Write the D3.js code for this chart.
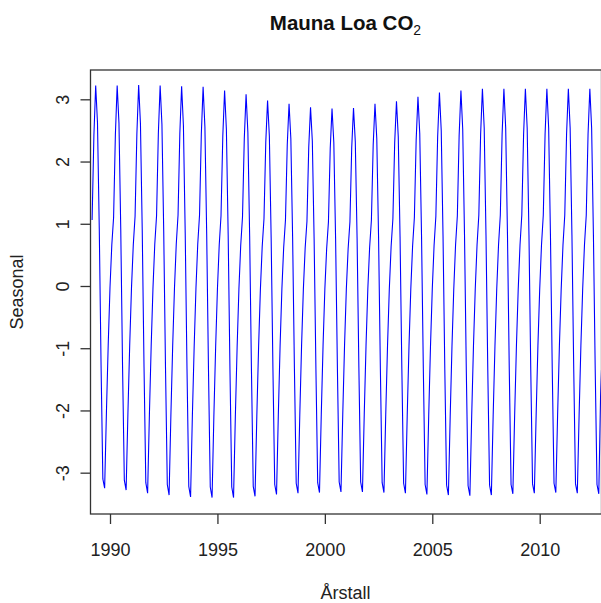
<!DOCTYPE html>
<html>
<head>
<meta charset="utf-8">
<script src="https://cdn.jsdelivr.net/npm/d3@7"></script>
<style>
  body { margin: 0; background: #fff; }
  svg { display: block; font-family: "Liberation Sans", Arial, sans-serif; }
</style>
</head>
<body>
<svg id="chart" width="601" height="603"></svg>
<script>
// Seasonal component, one row per year, Jan..Dec (null = no observation)
const years = [1989, 1990, 1991, 1992, 1993, 1994, 1995, 1996, 1997, 1998, 1999, 2000,
               2001, 2002, 2003, 2004, 2005, 2006, 2007, 2008, 2009, 2010, 2011, 2012];
const seasonal = [
  [null, null, 1.06, 2.42, 3.22, 2.63, 0.93, -1.27, -3.10, -3.25, -2.03, -0.94],
  [-0.02, 0.66, 1.10, 2.43, 3.22, 2.62, 0.92, -1.28, -3.12, -3.28, -2.05, -0.95],
  [-0.03, 0.66, 1.12, 2.44, 3.23, 2.61, 0.90, -1.30, -3.16, -3.33, -2.07, -0.96],
  [-0.03, 0.67, 1.13, 2.45, 3.22, 2.60, 0.88, -1.32, -3.19, -3.36, -2.08, -0.97],
  [-0.04, 0.67, 1.14, 2.45, 3.21, 2.58, 0.86, -1.33, -3.22, -3.39, -2.09, -0.98],
  [-0.04, 0.67, 1.14, 2.44, 3.20, 2.56, 0.84, -1.34, -3.23, -3.40, -2.10, -0.98],
  [-0.05, 0.66, 1.13, 2.41, 3.14, 2.52, 0.82, -1.35, -3.23, -3.40, -2.10, -0.98],
  [-0.05, 0.65, 1.11, 2.37, 3.08, 2.47, 0.80, -1.35, -3.22, -3.38, -2.09, -0.97],
  [-0.05, 0.63, 1.08, 2.31, 2.98, 2.41, 0.78, -1.34, -3.19, -3.35, -2.08, -0.96],
  [-0.05, 0.62, 1.06, 2.27, 2.93, 2.37, 0.77, -1.33, -3.17, -3.33, -2.07, -0.95],
  [-0.05, 0.61, 1.04, 2.23, 2.87, 2.33, 0.76, -1.32, -3.16, -3.32, -2.06, -0.95],
  [-0.05, 0.60, 1.03, 2.21, 2.85, 2.31, 0.76, -1.31, -3.15, -3.31, -2.06, -0.95],
  [-0.05, 0.60, 1.03, 2.22, 2.86, 2.32, 0.77, -1.31, -3.15, -3.31, -2.06, -0.95],
  [-0.05, 0.62, 1.06, 2.27, 2.93, 2.37, 0.78, -1.32, -3.16, -3.32, -2.07, -0.96],
  [-0.05, 0.63, 1.08, 2.30, 2.97, 2.40, 0.79, -1.33, -3.17, -3.33, -2.08, -0.96],
  [-0.05, 0.64, 1.10, 2.35, 3.04, 2.45, 0.80, -1.34, -3.19, -3.35, -2.09, -0.97],
  [-0.05, 0.65, 1.12, 2.40, 3.11, 2.50, 0.81, -1.35, -3.20, -3.36, -2.10, -0.97],
  [-0.05, 0.66, 1.13, 2.42, 3.14, 2.52, 0.82, -1.35, -3.21, -3.37, -2.10, -0.97],
  [-0.05, 0.66, 1.14, 2.44, 3.17, 2.54, 0.82, -1.35, -3.20, -3.36, -2.09, -0.97],
  [-0.05, 0.66, 1.14, 2.44, 3.17, 2.54, 0.82, -1.34, -3.19, -3.34, -2.08, -0.96],
  [-0.05, 0.66, 1.14, 2.44, 3.17, 2.54, 0.82, -1.34, -3.18, -3.33, -2.08, -0.96],
  [-0.05, 0.66, 1.14, 2.44, 3.17, 2.54, 0.82, -1.33, -3.17, -3.32, -2.07, -0.96],
  [-0.05, 0.66, 1.14, 2.44, 3.17, 2.54, 0.82, -1.33, -3.18, -3.33, -2.08, -0.96],
  [-0.05, 0.66, 1.14, 2.44, 3.17, 2.54, 0.82, -1.34, -3.19, -3.34, -1.76, -0.96]
];
const xTicks = [1990, 1995, 2000, 2005, 2010];
const yTicks = [-3, -2, -1, 0, 1, 2, 3];

// flatten to (time, value) points
const points = [];
years.forEach((yr, i) => {
    seasonal[i].forEach((v, m) => {
        if (v !== null) points.push({ t: yr + m / 12, v: v });
    });
});

const plotLeft = 90.5, plotRight = 601.5, plotTop = 70, plotBottom = 514;

const x = d3.scaleLinear().domain([1989.092, 2012.876]).range([plotLeft, plotRight]);
const y = d3.scaleLinear().domain([-3.664, 3.471]).range([plotBottom, plotTop]);

const svg = d3.select("#chart");
const ink = "#222";

svg.append("clipPath").attr("id", "plotClip")
    .append("rect")
    .attr("x", plotLeft).attr("y", plotTop)
    .attr("width", plotRight - plotLeft).attr("height", plotBottom - plotTop);

svg.append("path")
    .datum(points)
    .attr("clip-path", "url(#plotClip)")
    .attr("fill", "none")
    .attr("stroke", "#0000ff")
    .attr("stroke-width", 1.1)
    .attr("d", d3.line().x(d => x(d.t)).y(d => y(d.v)));

// box (right edge falls just outside the picture)
svg.append("rect")
    .attr("x", plotLeft).attr("y", plotTop)
    .attr("width", plotRight - plotLeft).attr("height", plotBottom - plotTop)
    .attr("fill", "none")
    .attr("stroke", "#333")
    .attr("stroke-width", 1.3);

// x axis
const gx = svg.append("g")
    .attr("transform", `translate(0,${plotBottom})`)
    .call(d3.axisBottom(x).tickValues(xTicks).tickFormat(d3.format("d")).tickSize(10).tickSizeOuter(0));
gx.select(".domain").remove();
gx.selectAll("line").attr("stroke", "#333").attr("stroke-width", 1.3);
gx.selectAll("text")
    .attr("y", 42).attr("dy", null)
    .attr("fill", ink)
    .style("font-size", "18px");

// y axis
const gy = svg.append("g")
    .attr("transform", `translate(${plotLeft},0)`)
    .call(d3.axisLeft(y).tickValues(yTicks).tickFormat(d3.format("d")).tickSize(10).tickSizeOuter(0));
gy.select(".domain").remove();
gy.selectAll("line").attr("stroke", "#333").attr("stroke-width", 1.3);
gy.selectAll("text")
    .attr("x", null).attr("dy", null)
    .attr("text-anchor", "middle")
    .attr("transform", "translate(-22,0) rotate(-90)")
    .attr("fill", ink)
    .style("font-size", "18px")
    .text(d => d < 0 ? "-" + Math.abs(d) : d);

// title
const title = svg.append("text")
    .attr("x", 345.5)
    .attr("y", 30)
    .attr("text-anchor", "middle")
    .attr("fill", "#111")
    .style("font-size", "20.5px")
    .style("font-weight", "bold");
title.append("tspan").text("Mauna Loa CO");
title.append("tspan").attr("dy", 5).style("font-size", "14px").style("font-weight", "normal").text("2");

// axis titles
svg.append("text")
    .attr("x", 345.5)
    .attr("y", 599)
    .attr("text-anchor", "middle")
    .attr("fill", ink)
    .style("font-size", "18px")
    .text("Årstall");

svg.append("text")
    .attr("transform", `translate(23,${(plotTop + plotBottom) / 2}) rotate(-90)`)
    .attr("text-anchor", "middle")
    .attr("fill", ink)
    .style("font-size", "18px")
    .text("Seasonal");
</script>
</body>
</html>
